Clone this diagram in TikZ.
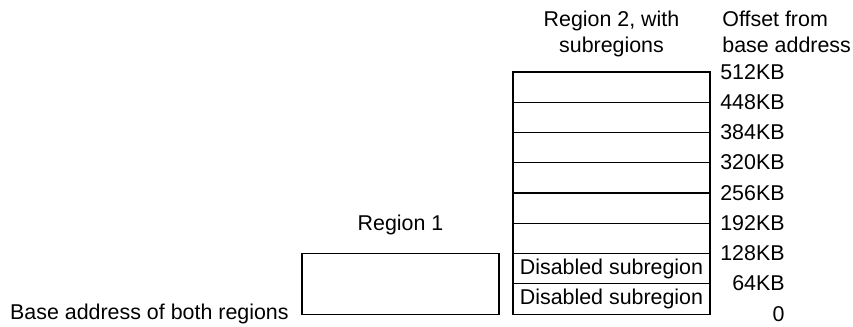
\documentclass[tikz,border=0pt]{standalone}
\usepackage{fontspec}
\setmainfont{Liberation Sans}
\usetikzlibrary{positioning}

\begin{document}
\begin{tikzpicture}[x=0.5pt,y=-0.5pt,
        font=\fontsize{10.7}{13}\selectfont,
        txt/.style={inner sep=0pt},
        subbox/.style={draw, line width=0.55pt, minimum width=98.5pt, minimum height=15.125pt, inner sep=0pt}]
        \useasboundingbox (0,0) rectangle (853,327);

        % region 2, eight subregions from the bottom up
        \node[subbox] (s0) at (611.5,299) {Disabled subregion};
        \node[subbox] (s1) at (611.5,268.75) {Disabled subregion};
        \foreach \i in {2,...,7}
            \node[subbox] (s\i) at (611.5,{314-30.25*(\i+0.5)}) {};

        % region 1
        \node[subbox, minimum height=30.25pt] (reg1) at (400.5,284) {};

        % offsets
        \foreach \lab [count=\k from 0] in {0,64KB,128KB,192KB,256KB,320KB,384KB,448KB,512KB}
            \node[txt, anchor=base east] (off\k) at (785,{314-30.25*\k+7}) {\lab};

        % headings (base = last line)
        \node[txt, anchor=base, align=center] (head2) at (611.5,52) {Region 2, with\\subregions};
        \node[txt, anchor=base west, align=left] (headoff) at (722,52) {Offset from\\base address};
        \node[txt, anchor=base] (head1) at (400.5,230) {Region 1};
        \node[txt, anchor=base east] (base) at (289,319) {Base address of both regions};
    \end{tikzpicture}
\end{document}
